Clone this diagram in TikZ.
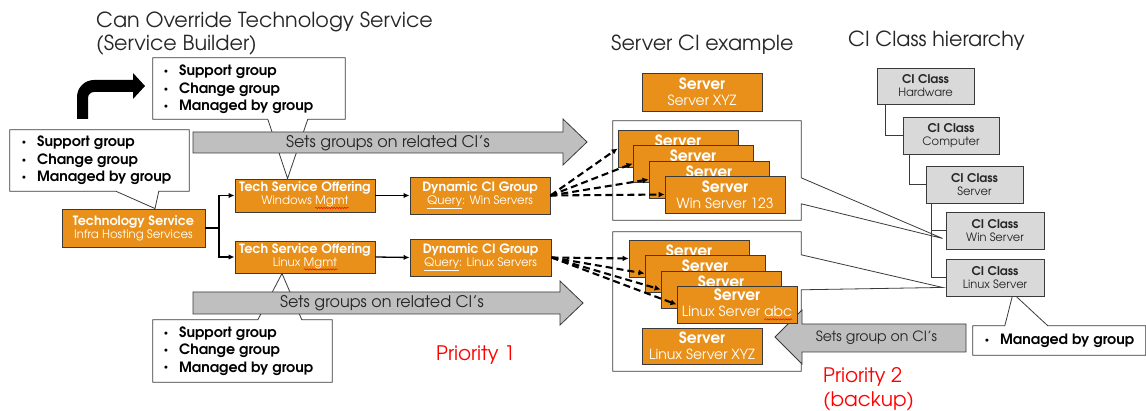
\documentclass[tikz,border=0pt]{standalone}
\usepackage{fontspec}
\setmainfont{TeX Gyre Adventor}
\usetikzlibrary{arrows.meta,calc,backgrounds,decorations.pathmorphing}
\definecolor{org}{HTML}{E8901A}
\definecolor{bdr}{HTML}{3A3A3A}
\definecolor{garr}{HTML}{BFBFBF}
\definecolor{cig}{HTML}{D9D9D9}
\definecolor{txt}{HTML}{262626}
\newsavebox\sqb
\newcommand\redsq[1]{\sbox\sqb{#1}\rlap{\tikz[baseline=0pt,x=1pt,y=1pt]\draw[red,line width=0.5pt,decorate,decoration={snake,amplitude=0.7pt,segment length=2.6pt}] (0,-3) -- (\the\wd\sqb,-3);}\usebox\sqb}
\newcommand\bl{\llap{\raisebox{2.2pt}{\fontsize{7.5}{7.5}\selectfont\textbullet}\hspace{11pt}}}
\newcommand\fs[2]{\fontsize{#1}{#2}\selectfont}
\newcommand\ob[1]{{\bfseries\fs{12.8}{13}#1}}
\newcommand\cb[1]{{\bfseries\fs{12}{13}#1}}
\tikzset{
  obox/.style={draw=bdr, fill=org, text=white, align=center, inner sep=0pt, line width=0.9pt, font=\fs{11.7}{13}},
  sbox/.style={obox, minimum width=120pt, minimum height=37pt, font=\fs{14}{16}},
  gbox/.style={draw=bdr, fill=cig, text=txt, align=center, inner sep=0pt, line width=0.9pt, minimum width=97pt, minimum height=37pt, font=\fs{11.5}{13}},
  frame/.style={inner sep=0pt, draw=none},
  callout/.style={draw=bdr, fill=white, line width=0.8pt},
  blist/.style={align=left, inner sep=0pt, anchor=west, text=black, font=\bfseries\fs{14.2}{17.3}},
  conn/.style={draw=black, line width=1.3pt, -{Latex[length=6pt,width=5.5pt]}},
  plain/.style={draw=black, line width=1.3pt},
  dconn/.style={draw=black, line width=2.1pt, dash pattern=on 7pt off 4pt, -{Latex[length=6pt,width=6pt]}},
  hline/.style={draw=bdr, line width=0.8pt},
  ttl/.style={font=\fs{20.7}{23}, anchor=base west, inner sep=0pt, text=txt},
  garrow/.style={draw=bdr, fill=garr, line width=0.8pt},
  atext/.style={font=\fs{16}{18}, text=txt, inner sep=0pt},
  redtext/.style={font=\fs{20}{22}, text=red, inner sep=0pt, anchor=west},
}
\begin{document}
\begin{tikzpicture}[x=1pt,y=-1pt]
\useasboundingbox (0,0) rectangle (1146,411);

% titles
\node[ttl] (t1) at (96,27.5) {Can Override Technology Service};
\node[ttl] (t2) at (96,50.5) {(Service Builder)};
\node[ttl] (t3) at (611,50.5) {Server CI example};
\node[ttl] (t4) at (848,47) {CI Class hierarchy};

% bent black arrow
\fill[black] (77,119) -- (77,97) arc[start angle=180, end angle=270, radius=17] -- (133,80) -- (133,73) -- (145,86) -- (133,99) -- (133,92) -- (94,92) arc[start angle=270, end angle=180, radius=6] -- (88,119) -- cycle;

% grey block arrows
\draw[garrow] (193,132) -- (563,132) -- (563,119) -- (587,142) -- (563,165) -- (563,153) -- (193,153) -- cycle;
\node[atext] (ga1) at (388,143) {Sets groups on related CI's};
\draw[garrow] (193,292) -- (560,292) -- (560,281) -- (583,303) -- (560,325) -- (560,314) -- (193,314) -- cycle;
\node[atext] (ga2) at (382,303) {Sets groups on related CI's};
\draw[garrow] (966,324) -- (802,324) -- (802,310) -- (775,337) -- (802,364) -- (802,352) -- (966,352) -- cycle;
\node[atext, font=\fs{14.1}{16}] (ga3) at (876.5,337.5) {Sets group on CI's};

% callout frames (outline drawn on background layer)
\node[frame, minimum width=192pt, minimum height=61pt] (cb1) at (249,88.5) {};
\node[frame, minimum width=179pt, minimum height=61pt] (cb2) at (99.5,160.5) {};
\node[frame, minimum width=179pt, minimum height=62pt] (cb3) at (242.5,351) {};
\node[frame, minimum width=172.5pt, minimum height=29pt] (cb4) at (1059.25,340.5) {};
\node[frame, minimum width=188pt, minimum height=99pt] (wc) at (707,170.5) {};
\node[frame, minimum width=188pt, minimum height=139pt] (lc) at (707,301.5) {};

% bullet lists
\node[blist] (cb1t) at (179,89.5) {\bl Support group\\\bl Change group\\\bl Managed by group};
\node[blist] (cb2t) at (37,160.5) {\bl Support group\\\bl Change group\\\bl Managed by group};
\node[blist] (cb3t) at (179,351) {\bl Support group\\\bl Change group\\\bl Managed by group};
\node[blist] (cb4t) at (1000,341) {\bl Managed by group};

% orange process boxes
\node[obox, minimum width=143pt, minimum height=38pt] (ts) at (133.5,228) {\ob{Technology Service}\\Infra Hosting Services};
\node[obox, minimum width=140pt, minimum height=33pt] (tsw) at (305,195.5) {\ob{Tech Service Offering}\\Windows \redsq{Mgmt}};
\node[obox, minimum width=140pt, minimum height=32pt] (tsl) at (305,257) {\ob{Tech Service Offering}\\Linux \redsq{Mgmt}};
\node[obox, minimum width=140pt, minimum height=37pt] (dcgw) at (480,195.5) {\ob{Dynamic CI Group}\\\underline{Query}: Win Servers};
\node[obox, minimum width=141pt, minimum height=37pt] (dcgl) at (480.5,257.5) {\ob{Dynamic CI Group}\\\underline{Query}: Linux Servers};

% server boxes
\node[sbox, minimum height=38pt] (sxyz) at (702,92) {{\bfseries\fs{15.5}{16}Server}\\Server XYZ};
\node[sbox] (w1) at (678,148.5) {{\bfseries\fs{15.5}{16}Server}\\\phantom{Win Server 123}};
\node[sbox] (w2) at (693,163.5) {{\bfseries\fs{15.5}{16}Server}\\\phantom{Win Server 123}};
\node[sbox] (w3) at (709,179.5) {{\bfseries\fs{15.5}{16}Server}\\\phantom{Win Server 123}};
\node[sbox] (w4) at (725,194.5) {{\bfseries\fs{15.5}{16}Server}\\Win Server 123};
\node[sbox] (l1) at (689,258.5) {{\bfseries\fs{15.5}{16}Server}\\\phantom{Linux Server abc}};
\node[sbox] (l2) at (705,273.5) {{\bfseries\fs{15.5}{16}Server}\\\phantom{Linux Server abc}};
\node[sbox] (l3) at (721,289.5) {{\bfseries\fs{15.5}{16}Server}\\\phantom{Linux Server abc}};
\node[sbox] (l4) at (737,304.5) {{\bfseries\fs{15.5}{16}Server}\\Linux Server \redsq{abc}};
\node[sbox, minimum height=36pt] (lxyz) at (702,346) {{\bfseries\fs{15.5}{16}Server}\\Linux Server XYZ};

% CI class hierarchy
\node[gbox, minimum height=36pt] (hw) at (925.5,86) {\cb{CI Class}\\Hardware};
\node[gbox, minimum width=96pt] (comp) at (951,135.5) {\cb{CI Class}\\Computer};
\node[gbox] (srv) at (974.5,184.5) {\cb{CI Class}\\Server};
\node[gbox, minimum width=98pt] (win) at (995,230.5) {\cb{CI Class}\\Win Server};
\node[gbox, minimum width=98pt] (lin) at (995,277.5) {\cb{CI Class}\\Linux Server};

\draw[hline] ($(hw.south west)+(9,0)$) |- (comp.west);
\draw[hline] ($(comp.south west)+(7,0)$) |- (srv.west);
\draw[hline] ($(srv.south west)+(6,0)$) |- (lin.west);
\draw[hline] ($(srv.south west)+(6,0)$) |- (win.west);

% red labels
\node[redtext] (p1) at (436,355) {Priority 1};
\node[redtext] (p2a) at (823,377) {Priority 2};
\node[redtext] (p2b) at (823,401) {(backup)};

% connectors
\coordinate (br) at (219,228);
\draw[plain] (ts.east) -- (br);
\draw[conn] (br) |- (tsw.west);
\draw[conn] (br) |- (tsl.west);
\draw[conn] (tsw.east) -- (dcgw.west);
\draw[conn] (tsl.east) -- (dcgl.west);

\draw[dconn] (dcgw.east) -- (w1.west);
\draw[dconn] (dcgw.east) -- (w2.west);
\draw[dconn] (dcgw.east) -- (w3.west);
\draw[dconn] (dcgw.east) -- (w4.west);
\draw[dconn] (dcgl.east) -- (l1.west);
\draw[dconn] (dcgl.east) -- (l2.west);
\draw[dconn] (dcgl.east) -- (l3.west);
\draw[dconn] (dcgl.east) -- (l4.west);

\coordinate (tip1) at ($(tsw.north west)+(53,0)$);
\coordinate (tip2) at ($(ts.north)+(21.5,0)$);
\coordinate (tip3) at ($(tsl.south)+(-23,0)$);
\coordinate (tip4) at ($(lin.south)+(18,-3)$);
\coordinate (tipw) at ($(win.south west)+(-3,-11)$);
\coordinate (tipl) at ($(lin.south west)+(-3,-9)$);

\begin{pgfonlayer}{background}
\fill[white] (0,0) rectangle (1146,411);
\draw[callout] (cb1.north west) -- (cb1.north east) -- (cb1.south east) -- ($(cb1.south west)+(155,0)$) -- (tip1) -- ($(cb1.south west)+(115,0)$) -- (cb1.south west) -- cycle;
\draw[callout] (cb2.north west) -- (cb2.north east) -- (cb2.south east) -- ($(cb2.south west)+(149,0)$) -- (tip2) -- ($(cb2.south west)+(106,0)$) -- (cb2.south west) -- cycle;
\draw[callout] (cb3.north west) -- ($(cb3.north west)+(105,0)$) -- (tip3) -- ($(cb3.north west)+(149,0)$) -- (cb3.north east) -- (cb3.south east) -- (cb3.south west) -- cycle;
\draw[callout] (cb4.north west) -- ($(cb4.north west)+(32,0)$) -- (tip4) -- ($(cb4.north west)+(75,0)$) -- (cb4.north east) -- (cb4.south east) -- (cb4.south west) -- cycle;
\draw[callout] (wc.north west) -- (wc.north east) -- ($(wc.north east)+(0,57)$) -- (tipw) -- ($(wc.north east)+(0,83)$) -- (wc.south east) -- (wc.south west) -- cycle;
\draw[callout] (lc.north west) -- (lc.north east) -- ($(lc.north east)+(0,23)$) -- (tipl) -- ($(lc.north east)+(0,58)$) -- (lc.south east) -- (lc.south west) -- cycle;
\end{pgfonlayer}
\end{tikzpicture}
\end{document}
